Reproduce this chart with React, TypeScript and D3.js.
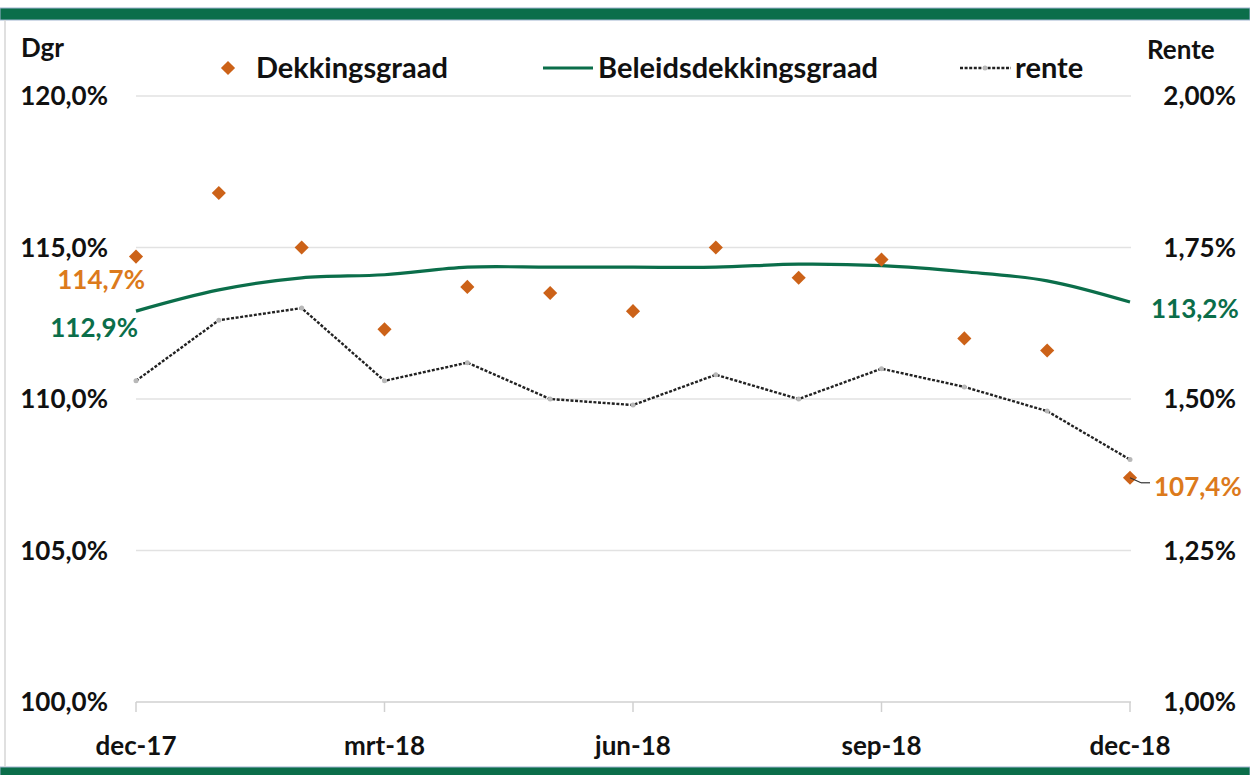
import React from "react";
import * as d3 from "d3";

const months = ["dec-17","jan-18","feb-18","mrt-18","apr-18","mei-18","jun-18","jul-18","aug-18","sep-18","okt-18","nov-18","dec-18"];
const tickMonths = ["dec-17","mrt-18","jun-18","sep-18","dec-18"];
const dekkingsgraad = [114.7,116.8,115.0,112.3,113.7,113.5,112.9,115.0,114.0,114.6,112.0,111.6,107.4];
const beleidsdekkingsgraad = [112.9,113.6,114.0,114.1,114.35,114.35,114.35,114.35,114.45,114.4,114.2,113.9,113.2];
const rente = [1.53,1.63,1.65,1.53,1.56,1.50,1.49,1.54,1.50,1.55,1.52,1.48,1.40];
const leftTicks = [100,105,110,115,120];
const rightTicks = [1.0,1.25,1.5,1.75,2.0];

const W = 1250, H = 775;
const FONT = "Lato, 'Open Sans', sans-serif";
const GREEN = "#0b6e4a";
const ORANGE = "#cc6218";
const ORANGE_LABEL = "#dc7a1c";
const AX = 26;
const LG = 29;

export default function App() {
  const x = d3.scalePoint<string>().domain(months).range([136, 1130]);
  const yL = d3.scaleLinear().domain([100, 120]).range([702, 96]);
  const yR = d3.scaleLinear().domain([1.0, 2.0]).range([702, 96]);
  const fmtL = (v: number) => v.toFixed(1).replace(".", ",") + "%";
  const fmtR = (v: number) => v.toFixed(2).replace(".", ",") + "%";

  const greenLine = d3.line<number>()
    .x((_, i) => x(months[i])!)
    .y((d) => yL(d))
    .curve(d3.curveCatmullRom.alpha(0.5));
  const renteLine = d3.line<number>()
    .x((_, i) => x(months[i])!)
    .y((d) => yR(d));
  const diamond = d3.symbol().type(d3.symbolSquare).size(100)();

  const last = months.length - 1;
  return (
    <svg width={W} height={H} style={{ position: "absolute", left: 0, top: 0, background: "#fff" }} fontFamily={FONT} fontWeight={700}>
      <rect x={0} y={0} width={W} height={H} fill="#fff" />
      {/* frame */}
      <rect x={0} y={8} width={W} height={12} fill={GREEN} stroke="#9fb4d0" strokeWidth={1} />
      <rect x={0} y={767} width={W} height={10} fill={GREEN} stroke="#9fb4d0" strokeWidth={1} />
      <line x1={5} x2={5} y1={20} y2={767} stroke="#d6d6d6" strokeWidth={1.5} />

      {/* gridlines */}
      {leftTicks.map((t) => (
        <line key={t} x1={136} x2={1131} y1={yL(t)} y2={yL(t)} stroke={t === 100 ? "#d0d0d0" : "#e2e2e2"} strokeWidth={1.5} />
      ))}
      {tickMonths.map((m) => (
        <line key={m} x1={x(m)} x2={x(m)} y1={702} y2={712} stroke="#d0d0d0" strokeWidth={1.5} />
      ))}

      {/* left axis */}
      {leftTicks.map((t) => (
        <text key={t} x={108} y={yL(t)} dy="0.35em" textAnchor="end" fontSize={AX} fill="#111">{fmtL(t)}</text>
      ))}
      <text x={21} y={48} dy="0.35em" fontSize={AX} fill="#111">Dgr</text>
      {/* right axis */}
      {rightTicks.map((t) => (
        <text key={t} x={1236} y={yR(t)} dy="0.35em" textAnchor="end" fontSize={AX} fill="#111">{fmtR(t)}</text>
      ))}
      <text x={1147} y={50} dy="0.35em" fontSize={AX} fill="#111">Rente</text>
      {/* x axis */}
      {tickMonths.map((m) => (
        <text key={m} x={x(m)} y={746} dy="0.35em" textAnchor="middle" fontSize={AX} fill="#111">{m}</text>
      ))}

      {/* series */}
      <path d={greenLine(beleidsdekkingsgraad)!} fill="none" stroke={GREEN} strokeWidth={3.2} />
      <path d={renteLine(rente)!} fill="none" stroke="#222" strokeWidth={2.4} strokeDasharray="3 1.6" />
      {rente.map((r, i) => (
        <circle key={i} cx={x(months[i])} cy={yR(r)} r={2.5} fill="#b8b8b8" />
      ))}
      {dekkingsgraad.map((d, i) => (
        <path key={i} d={diamond} transform={`translate(${x(months[i])},${yL(d)}) rotate(45)`} fill={ORANGE} />
      ))}

      {/* data labels */}
      <text x={145} y={280} dy="0.35em" textAnchor="end" fontSize={AX} fill={ORANGE_LABEL}>{fmtL(dekkingsgraad[0])}</text>
      <text x={138} y={328} dy="0.35em" textAnchor="end" fontSize={AX} fill={GREEN}>{fmtL(beleidsdekkingsgraad[0])}</text>
      <text x={1151} y={309} dy="0.35em" fontSize={AX} fill={GREEN}>{fmtL(beleidsdekkingsgraad[last])}</text>
      <line x1={x(months[last])} y1={yL(dekkingsgraad[last])} x2={1141} y2={yL(dekkingsgraad[last]) + 5} stroke="#333" strokeWidth={1.2} />
      <line x1={1141} y1={yL(dekkingsgraad[last]) + 5} x2={1150} y2={yL(dekkingsgraad[last]) + 5} stroke="#333" strokeWidth={1.2} />
      <text x={1154} y={487} dy="0.35em" fontSize={AX} fill={ORANGE_LABEL}>{fmtL(dekkingsgraad[last])}</text>

      {/* legend */}
      <path d={diamond} transform={`translate(228,68) rotate(45)`} fill={ORANGE} />
      <text x={256} y={68} dy="0.35em" fontSize={LG} fill="#111">Dekkingsgraad</text>
      <line x1={543} x2={593} y1={68} y2={68} stroke={GREEN} strokeWidth={3.2} />
      <text x={598} y={68} dy="0.35em" fontSize={LG} fill="#111">Beleidsdekkingsgraad</text>
      <line x1={960} x2={1011} y1={68} y2={68} stroke="#222" strokeWidth={2.4} strokeDasharray="3 1.6" />
      <circle cx={985} cy={68} r={2.5} fill="#b8b8b8" />
      <text x={1015} y={68} dy="0.35em" fontSize={LG} fill="#111">rente</text>
    </svg>
  );
}
